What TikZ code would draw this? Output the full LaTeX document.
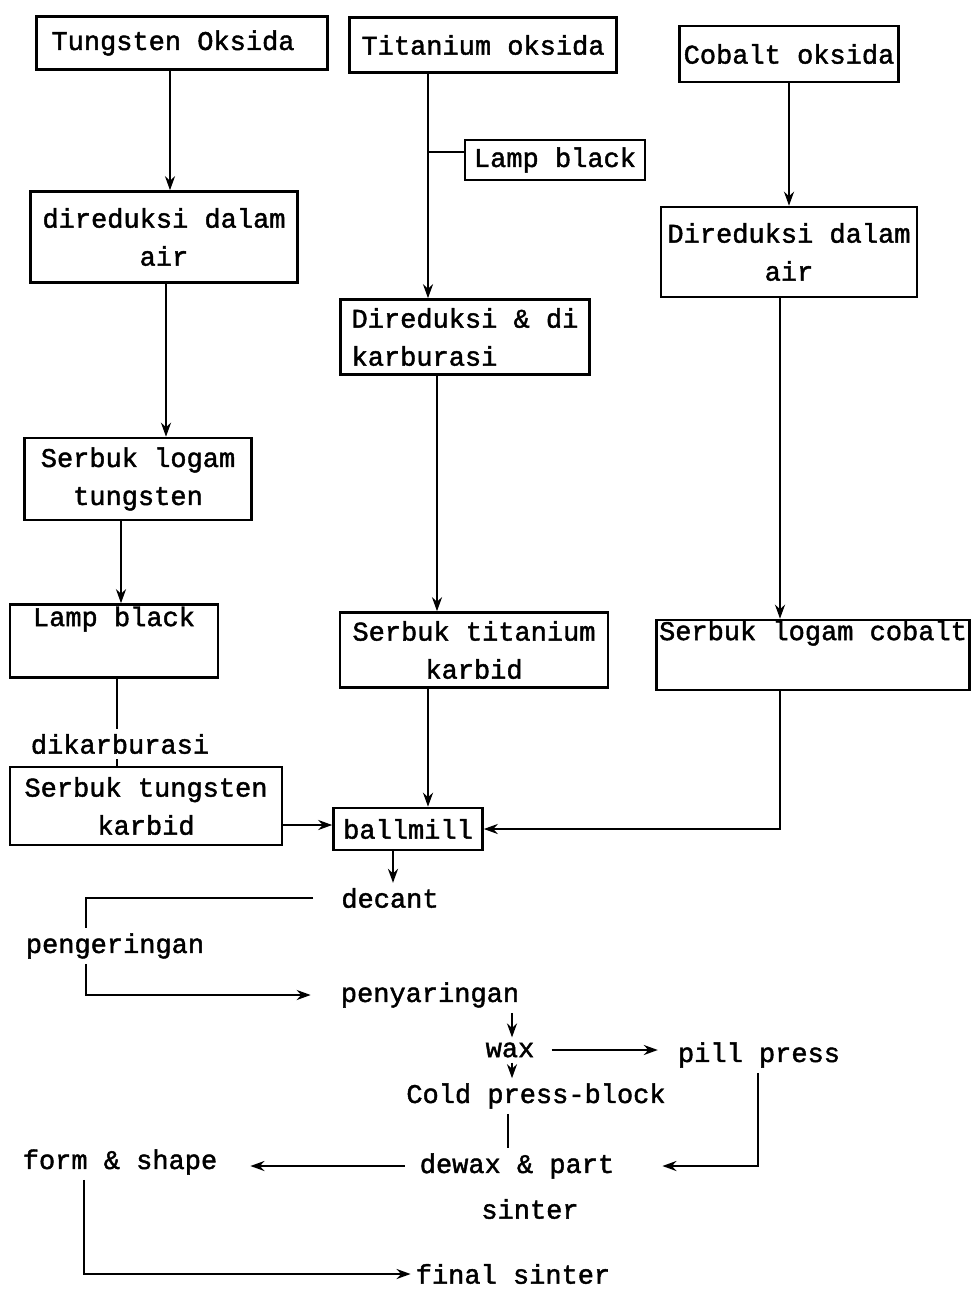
\documentclass[tikz,border=0pt]{standalone}
\usepackage{fontspec}
\newfontfamily\tw[FakeBold=1.6]{Liberation Mono}
\usetikzlibrary{arrows.meta}
\begin{document}
\begin{tikzpicture}[x=1pt,y=-1pt,
  every node/.style={font=\tw\fontsize{27}{38}\selectfont, inner sep=5pt},
  box/.style={draw, line width=2.6pt, align=center, inner sep=0pt},
  arr/.style={line width=2.2pt, -{Stealth[length=14pt,width=10pt]}},
  ln/.style={line width=2.2pt}]
\useasboundingbox (0,0) rectangle (978,1290);
\fill[white] (0,0) rectangle (978,1290);

% boxes
\node[box, minimum width=291pt, minimum height=53pt] (tung) at (182,43) {Tungsten Oksida\hspace*{18pt}};
\node[box, minimum width=267pt, minimum height=55pt] (tita) at (483,45) {Titanium oksida};
\node[box, minimum width=219pt, minimum height=56pt] (coba) at (789,54) {Cobalt oksida};
\node[box, minimum width=180pt, minimum height=40pt] (lamp1) at (555,160) {Lamp black};
\node[box, minimum width=267pt, minimum height=91pt] (dir1) at (164,237) {direduksi dalam\\air};
\node[box, minimum width=256pt, minimum height=90pt] (dir3) at (789,252) {Direduksi dalam\\air};
\node[box, align=left, minimum width=249pt, minimum height=75pt] (dir2) at (465,337) {Direduksi \& di\\karburasi};
\node[box, minimum width=227pt, minimum height=82pt] (serW) at (138,479) {Serbuk logam\\tungsten};
\node[box, minimum width=208pt, minimum height=73pt] (lamp2) at (114,641) {Lamp black\\\strut};
\node[box, minimum width=268pt, minimum height=75pt] (serT) at (474,650) {Serbuk titanium\\karbid};
\node[box, minimum width=313pt, minimum height=70pt] (serC) at (813,655) {Serbuk logam cobalt\\\strut};
\node (dikarb) at (120,744) {dikarburasi};
\node[box, minimum width=272pt, minimum height=78pt] (serWC) at (146,806) {Serbuk tungsten\\karbid};
\node[box, minimum width=149pt, minimum height=42pt] (ball) at (408,829) {ballmill};

% plain text steps
\node (decant) at (390,898) {decant};
\node (peng) at (115,946) {pengeringan};
\node (penyar) at (430,995) {penyaringan};
\node (wax) at (510,1050) {wax};
\node (pill) at (759,1055) {pill press};
\node (cold) at (536,1096) {Cold press-block};
\node (form) at (120,1162) {form \& shape};
\node (dewax) at (517,1166) {dewax \& part};
\node (sinter) at (530,1209) {sinter};
\node (final) at (513,1274) {final sinter};

% column positions
\coordinate (c1) at (170,0);
\coordinate (c2) at (166,0);
\coordinate (c3) at (121,0);
\coordinate (c4) at (117,0);
\coordinate (c5) at (428,0);
\coordinate (c6) at (437,0);
\coordinate (c7) at (789,0);
\coordinate (c8) at (780,0);
\coordinate (c9) at (393,0);
\coordinate (c10) at (86,0);
\coordinate (c11) at (512,0);
\coordinate (c12) at (508,0);
\coordinate (c13) at (758,0);
\coordinate (c14) at (84,0);

% tungsten column
\draw[arr] (tung.south -| c1) -- (dir1.north -| c1);
\draw[arr] (dir1.south -| c2) -- (serW.north -| c2);
\draw[arr] (serW.south -| c3) -- (lamp2.north -| c3);
\draw[ln] (lamp2.south -| c4) -- (dikarb.north -| c4);
\draw[ln] (dikarb.south -| c4) -- (serWC.north -| c4);
\draw[arr] ([yshift=-19pt]serWC.east) -- ([yshift=4pt]ball.west);

% titanium column
\draw[arr] (tita.south -| c5) -- (dir2.north -| c5);
\draw[ln] ([yshift=8pt]lamp1.west) -- ([yshift=8pt]lamp1.west -| c5);
\draw[arr] (dir2.south -| c6) -- (serT.north -| c6);
\draw[arr] (serT.south -| c5) -- (ball.north -| c5);

% cobalt column
\draw[arr] (coba.south -| c7) -- (dir3.north -| c7);
\draw[arr] (dir3.south -| c8) -- (serC.north -| c8);
\draw[arr] (serC.south -| c8) |- (ball.east);

% after ballmill
\draw[arr] (ball.south -| c9) -- (decant.north -| c9);
\draw[ln] ([xshift=-23pt]decant.west) -| (peng.north -| c10);
\draw[arr] (peng.south -| c10) |- ([xshift=-25pt]penyar.west);
\draw[arr] (penyar.south -| c11) -- (wax.north -| c11);
\draw[arr] (wax.south -| c11) -- (cold.north -| c11);
\draw[arr, shorten <=12pt, shorten >=15pt] (wax.east) -- (wax.east -| pill.west);
\draw[ln] (cold.south -| c12) -- (dewax.north -| c12);
\draw[arr, shorten >=43pt] (pill.south -| c13) |- (dewax.east);
\draw[arr, shorten <=10pt, shorten >=28pt] (dewax.west) -- (dewax.west -| form.east);
\draw[arr] (form.south -| c14) |- (final.west);
\end{tikzpicture}
\end{document}
